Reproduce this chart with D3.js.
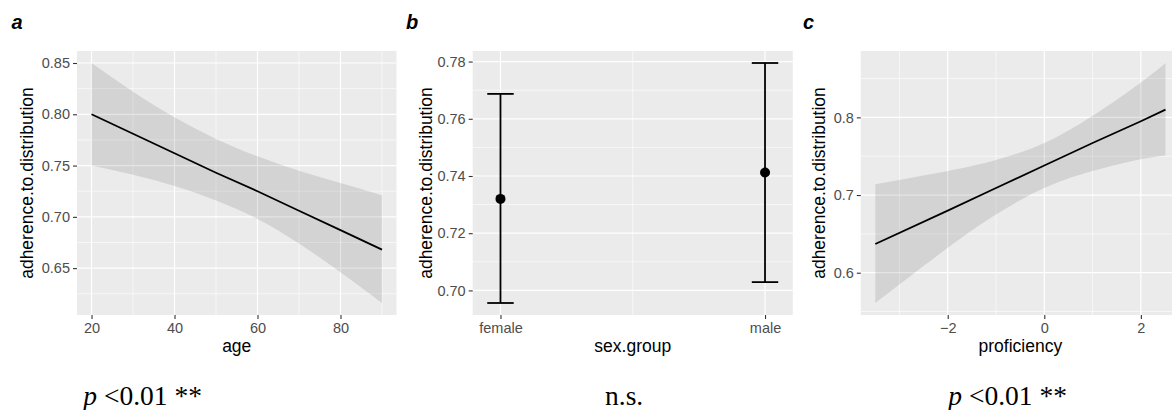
<!DOCTYPE html>
<html>
<head>
<meta charset="utf-8">
<script src="https://cdn.jsdelivr.net/npm/d3@7"></script>
<style>
  html, body { margin: 0; padding: 0; background: #fff; }
  svg { display: block; }
</style>
</head>
<body>
<svg id="chart" width="1172" height="410"></svg>
<script>
// ---- Panel a: adherence vs age (fitted line with confidence band) ----
const ageX     = [20, 30, 40, 50, 60, 70, 80, 90];
const ageFit   = [0.800, 0.781, 0.762, 0.743, 0.725, 0.706, 0.687, 0.668];
const ageUpper = [0.850, 0.822, 0.797, 0.776, 0.759, 0.745, 0.733, 0.721];
const ageLower = [0.750, 0.741, 0.730, 0.716, 0.698, 0.674, 0.646, 0.616];
const ageXTicks = [20, 40, 60, 80];
const ageYTicks = [0.65, 0.70, 0.75, 0.80, 0.85];
const ageYLabels = ["0.65", "0.70", "0.75", "0.80", "0.85"];

// ---- Panel b: adherence by sex group (mean with interval) ----
const sexGroups = ["female", "male"];
const sexMean   = [0.732, 0.7412];
const sexUpper  = [0.7687, 0.7795];
const sexLower  = [0.6956, 0.7029];
const sexYTicks = [0.70, 0.72, 0.74, 0.76, 0.78];
const sexYLabels = ["0.70", "0.72", "0.74", "0.76", "0.78"];

// ---- Panel c: adherence vs proficiency ----
const profX     = [-3.5, -2, -1, 0, 1, 2, 2.51];
const profFit   = [0.637, 0.680, 0.709, 0.738, 0.767, 0.795, 0.810];
const profUpper = [0.714, 0.731, 0.745, 0.767, 0.802, 0.845, 0.870];
const profLower = [0.561, 0.632, 0.675, 0.709, 0.731, 0.746, 0.751];
const profXTicks = [-2, 0, 2];
const profXLabels = ["\u22122", "0", "2"];
const profYTicks = [0.6, 0.7, 0.8];
const profYLabels = ["0.6", "0.7", "0.8"];

const svg = d3.select("#chart");
const SANS = "'Liberation Sans', Arial, Helvetica, sans-serif";
const SERIF = "'Liberation Serif', 'Times New Roman', serif";
const TOP = 51, BOTTOM = 315;

// ggplot-style expansion: 5% of the data range on each side
function expand(lo, hi) { const p = (hi - lo) * 0.05; return [lo - p, hi + p]; }

function panel(opts) {
  const g = svg.append("g");
  const x = d3.scaleLinear().domain(opts.xDomain).range([opts.left, opts.right]);
  const y = d3.scaleLinear().domain(opts.yDomain).range([BOTTOM, TOP]);

  g.append("rect")
    .attr("x", opts.left).attr("y", TOP)
    .attr("width", opts.right - opts.left).attr("height", BOTTOM - TOP)
    .attr("fill", "#EBEBEB");

  const inX = v => v >= opts.xDomain[0] && v <= opts.xDomain[1];
  const inY = v => v >= opts.yDomain[0] && v <= opts.yDomain[1];

  const grid = g.append("g");
  opts.xMinor.filter(inX).forEach(v => grid.append("line")
    .attr("x1", x(v)).attr("x2", x(v)).attr("y1", TOP).attr("y2", BOTTOM)
    .attr("stroke", "#fff").attr("stroke-width", 0.6));
  opts.yMinor.filter(inY).forEach(v => grid.append("line")
    .attr("y1", y(v)).attr("y2", y(v)).attr("x1", opts.left).attr("x2", opts.right)
    .attr("stroke", "#fff").attr("stroke-width", 0.6));
  opts.xTicks.forEach(v => grid.append("line")
    .attr("x1", x(v)).attr("x2", x(v)).attr("y1", TOP).attr("y2", BOTTOM)
    .attr("stroke", "#fff").attr("stroke-width", 1.2));
  opts.yTicks.forEach(v => grid.append("line")
    .attr("y1", y(v)).attr("y2", y(v)).attr("x1", opts.left).attr("x2", opts.right)
    .attr("stroke", "#fff").attr("stroke-width", 1.2));

  // axes
  const yAxis = d3.axisLeft(y).tickValues(opts.yTicks)
    .tickFormat((d, i) => opts.yLabels[i]).tickSize(4).tickPadding(3);
  const ya = g.append("g").attr("transform", `translate(${opts.left},0)`).call(yAxis);
  const xAxis = d3.axisBottom(x).tickValues(opts.xTicks)
    .tickFormat((d, i) => opts.xLabels[i]).tickSize(4).tickPadding(4);
  const xa = g.append("g").attr("transform", `translate(0,${BOTTOM})`).call(xAxis);
  [ya, xa].forEach(a => {
    a.select(".domain").remove();
    a.selectAll(".tick line").attr("stroke", "#333").attr("stroke-width", 1.1);
    a.selectAll(".tick text").attr("fill", "#4D4D4D")
      .style("font-family", SANS).style("font-size", "14.5px");
  });

  // axis titles
  g.append("text")
    .attr("x", (opts.left + Math.min(opts.right, 1180)) / 2).attr("y", 352)
    .attr("text-anchor", "middle")
    .style("font-family", SANS).style("font-size", "17.5px").attr("fill", "#000")
    .text(opts.xTitle);
  g.append("text")
    .attr("transform", `translate(${opts.yTitleX},${(TOP + BOTTOM) / 2}) rotate(-90)`)
    .attr("text-anchor", "middle")
    .style("font-family", SANS).style("font-size", "17.5px").attr("fill", "#000")
    .text("adherence.to.distribution");

  // panel tag
  g.append("text")
    .attr("x", opts.tagX).attr("y", 28.5)
    .style("font-family", SANS).style("font-size", "20px")
    .style("font-weight", "bold").style("font-style", "italic")
    .text(opts.tag);

  // significance note
  const note = g.append("text")
    .attr("x", opts.noteX).attr("y", 405)
    .style("font-family", SERIF).style("font-size", "27.5px").attr("fill", "#000");
  if (opts.noteP) {
    note.append("tspan").style("font-style", "italic").text("p");
    note.append("tspan").text(" <0.01 **");
  } else {
    note.text(opts.noteText);
  }

  return { g, x, y };
}

function bandPanel(p, xs, fit, lo, hi) {
  const idx = d3.range(xs.length);
  const area = d3.area()
    .x(i => p.x(xs[i])).y0(i => p.y(lo[i])).y1(i => p.y(hi[i]))
    .curve(d3.curveNatural);
  p.g.append("path").datum(idx).attr("d", area)
    .attr("fill", "#000").attr("fill-opacity", 0.1);
  const line = d3.line().x(i => p.x(xs[i])).y(i => p.y(fit[i]));
  p.g.append("path").datum(idx).attr("d", line)
    .attr("fill", "none").attr("stroke", "#000").attr("stroke-width", 1.8);
}

// Panel a
const pa = panel({
  left: 77, right: 396.5,
  xDomain: expand(d3.min(ageX), d3.max(ageX)),
  yDomain: expand(d3.min(ageLower), d3.max(ageUpper)),
  xTicks: ageXTicks, xLabels: ageXTicks.map(String),
  xMinor: [10, 30, 50, 70, 90],
  yTicks: ageYTicks, yLabels: ageYLabels,
  yMinor: [0.625, 0.675, 0.725, 0.775, 0.825, 0.875],
  xTitle: "age", yTitleX: 33.3, tag: "a", tagX: 11.5,
  noteP: true, noteX: 83.3
});
bandPanel(pa, ageX, ageFit, ageLower, ageUpper);

// Panel b: categories at positions 1, 2; error bar width 0.1 extends the range
const capW = 0.1;
const pb = panel({
  left: 472.7, right: 792.8,
  xDomain: expand(1 - capW / 2, sexGroups.length + capW / 2),
  yDomain: expand(d3.min(sexLower), d3.max(sexUpper)),
  xTicks: [1, 2], xLabels: sexGroups,
  xMinor: [1.5],
  yTicks: sexYTicks, yLabels: sexYLabels,
  yMinor: [0.69, 0.71, 0.73, 0.75, 0.77, 0.79],
  xTitle: "sex.group", yTitleX: 431.7, tag: "b", tagX: 406,
  noteP: false, noteText: "n.s.", noteX: 605
});
sexGroups.forEach((s, i) => {
  const cx = pb.x(i + 1);
  const hw = (pb.x(1 + capW / 2) - pb.x(1 - capW / 2)) / 2;
  const eb = pb.g.append("g").attr("stroke", "#000").attr("stroke-width", 1.8);
  eb.append("line").attr("x1", cx).attr("x2", cx)
    .attr("y1", pb.y(sexLower[i])).attr("y2", pb.y(sexUpper[i]));
  eb.append("line").attr("x1", cx - hw).attr("x2", cx + hw)
    .attr("y1", pb.y(sexUpper[i])).attr("y2", pb.y(sexUpper[i]));
  eb.append("line").attr("x1", cx - hw).attr("x2", cx + hw)
    .attr("y1", pb.y(sexLower[i])).attr("y2", pb.y(sexLower[i]));
  pb.g.append("circle").attr("cx", cx).attr("cy", pb.y(sexMean[i]))
    .attr("r", 5).attr("fill", "#000");
});

// Panel c (extends past the right edge of the figure)
const pc = panel({
  left: 860.8, right: 1180,
  xDomain: expand(d3.min(profX), d3.max(profX)),
  yDomain: expand(d3.min(profLower), d3.max(profUpper)),
  xTicks: profXTicks, xLabels: profXLabels,
  xMinor: [-3, -1, 1, 3],
  yTicks: profYTicks, yLabels: profYLabels,
  yMinor: [0.55, 0.65, 0.75, 0.85],
  xTitle: "proficiency", yTitleX: 825, tag: "c", tagX: 803,
  noteP: true, noteX: 948.3
});
bandPanel(pc, profX, profFit, profLower, profUpper);
</script>
</body>
</html>
